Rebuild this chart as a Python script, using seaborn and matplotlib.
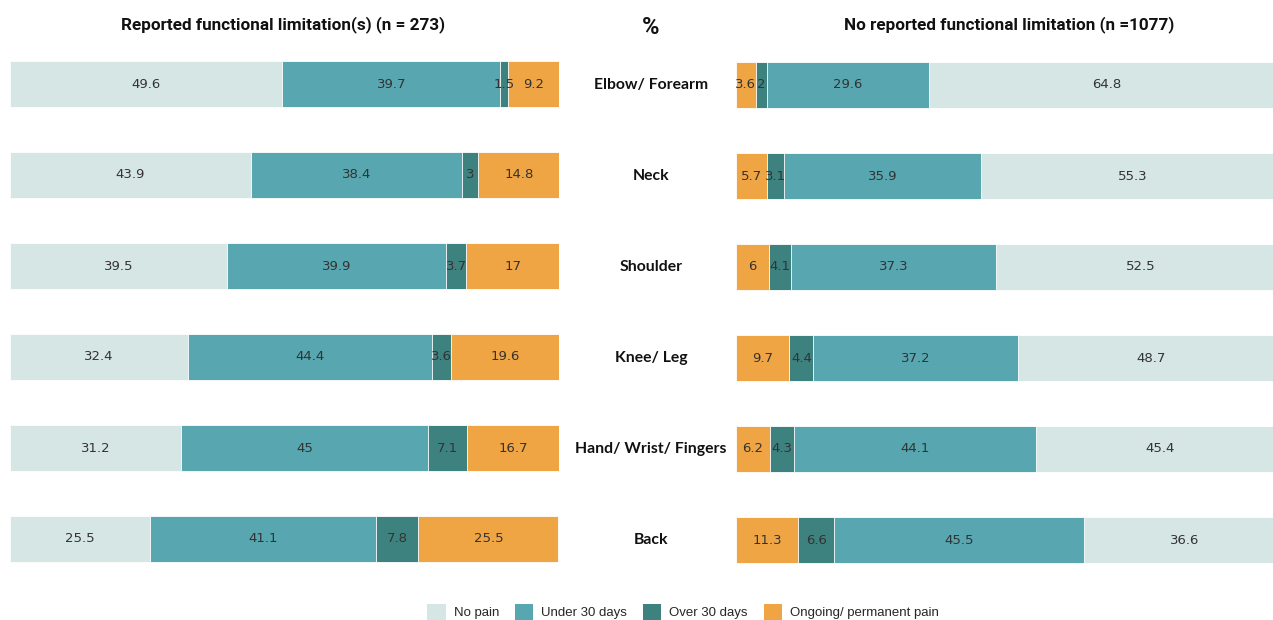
import matplotlib
matplotlib.use("Agg")
import matplotlib.pyplot as plt
from matplotlib.patches import Patch
import seaborn as sns
import numpy as np

sns.set_theme(style="white")
plt.rcParams["font.family"] = ["DejaVu Sans"]

# Body regions and pain-duration shares (%)
regions = ["Elbow/ Forearm", "Neck", "Shoulder", "Knee/ Leg", "Hand/ Wrist/ Fingers", "Back"]
series = ["No pain", "Under 30 days", "Over 30 days", "Ongoing/ permanent pain"]

limited_no_pain = [49.6, 43.9, 39.5, 32.4, 31.2, 25.5]
limited_under30 = [39.7, 38.4, 39.9, 44.4, 45.0, 41.1]
limited_over30 = [1.5, 3.0, 3.7, 3.6, 7.1, 7.8]
limited_ongoing = [9.2, 14.8, 17.0, 19.6, 16.7, 25.5]

unlimited_no_pain = [64.8, 55.3, 52.5, 48.7, 45.4, 36.6]
unlimited_under30 = [29.6, 35.9, 37.3, 37.2, 44.1, 45.5]
unlimited_over30 = [2, 3.1, 4.1, 4.4, 4.3, 6.6]
unlimited_ongoing = [3.6, 5.7, 6, 9.7, 6.2, 11.3]

left_title = "Reported functional limitation(s) (n = 273)"
right_title = "No reported functional limitation (n =1077)"

colors = {
    "No pain": "#d6e6e5",
    "Under 30 days": "#57a6b0",
    "Over 30 days": "#3e8280",
    "Ongoing/ permanent pain": "#f0a544",
}

fig = plt.figure(figsize=(12.73, 6.2), dpi=100)
W, H = 1273, 620
row_h = 91
top = 84 - row_h / 2
ax_h = row_h * 6
# both panels share the same scale; the right one runs past the figure edge
ax_l = fig.add_axes([10 / W, 1 - (top + ax_h) / H, 549 / W, ax_h / H])
ax_r = fig.add_axes([736 / W, 1 - (top + 1 + ax_h) / H, 549 / W, ax_h / H])


def stacked(ax, segs):
    """segs: list of (name, values) in left-to-right order."""
    vals = np.array([v for _, v in segs], dtype=float)
    cum = np.cumsum(vals, axis=0)
    # draw longest cumulative first so shorter ones overlay
    for i in range(len(segs) - 1, -1, -1):
        name = segs[i][0]
        sns.barplot(x=cum[i], y=regions, orient="h", color=colors[name],
                    width=0.5, ax=ax, saturation=1, edgecolor="white",
                    linewidth=0.6)
    starts = cum - vals
    for i in range(len(segs)):
        for j in range(len(regions)):
            v = vals[i, j]
            label = f"{v:g}"
            ax.text(starts[i, j] + v / 2, j, label, ha="center", va="center",
                    fontsize=9.5, color="#333333")
    ax.set_xlim(0, 100)
    ax.set_ylim(5.5, -0.5)
    ax.set_xlabel("")
    ax.set_ylabel("")
    ax.set_xticks([])
    ax.set_yticks([])
    for s in ax.spines.values():
        s.set_visible(False)
    ax.patch.set_alpha(0)


stacked(ax_l, [("No pain", limited_no_pain), ("Under 30 days", limited_under30),
               ("Over 30 days", limited_over30), ("Ongoing/ permanent pain", limited_ongoing)])
stacked(ax_r, [("Ongoing/ permanent pain", unlimited_ongoing), ("Over 30 days", unlimited_over30),
               ("Under 30 days", unlimited_under30), ("No pain", unlimited_no_pain)])

# Region names in the gap between the two panels
for j, name in enumerate(regions):
    y = 1 - (85 + j * row_h) / H
    fig.text(651 / W, y, name, ha="center", va="center", fontsize=11.3,
             fontweight="bold", color="#111111", family=["Lato", "DejaVu Sans"])

title_font = dict(ha="center", va="center", fontsize=12.3, fontweight="bold",
                  color="#111111", family=["Roboto", "DejaVu Sans"])
fig.text(283 / W, 1 - 25 / H, left_title, **title_font)
fig.text(1009 / W, 1 - 25 / H, right_title, **title_font)
fig.text(651 / W, 1 - 27 / H, "%", ha="center", va="center",
         fontsize=17, fontweight="bold", color="#111111", family=["Roboto", "DejaVu Sans"])

handles = [Patch(facecolor=colors[s], edgecolor="none", label=s) for s in series]
fig.legend(handles=handles, loc="center", bbox_to_anchor=(683 / W, 1 - 612 / H),
           ncol=4, frameon=False, handlelength=1.4, handleheight=1.4,
           columnspacing=1.2, handletextpad=0.6,
           prop={"family": "Liberation Sans", "size": 9.5})

fig.savefig("out.png", dpi=100)
